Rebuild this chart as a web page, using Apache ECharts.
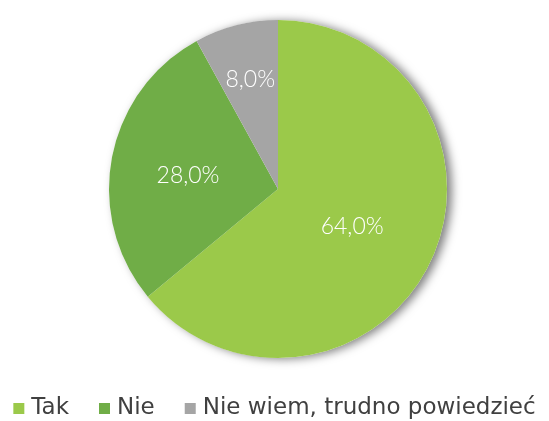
<!DOCTYPE html>
<html>
<head>
<meta charset="utf-8">
<script src="https://cdn.jsdelivr.net/npm/echarts@6/dist/echarts.min.js"></script>
<style>
html,body{margin:0;padding:0;background:#fff;}
#chart{width:549px;height:421px;}
</style>
</head>
<body>
<div id="chart"></div>
<script>
// Survey answers and their shares (percent)
const categories = ['Tak', 'Nie', 'Nie wiem, trudno powiedzieć'];
const shares = [64.0, 28.0, 8.0];
const colors = ['#9BC94A', '#70AD47', '#A5A5A5'];
// small nudges of the in-slice percentage labels
const labelOffsets = [[-5, 0], [-4, 3], [-6, -25]];

const total = shares.reduce((a, b) => a + b, 0);
const chart = echarts.init(document.getElementById('chart'), null, {renderer: 'canvas'});

const data = categories.map((name, i) => ({
  name: name,
  value: shares[i],
  itemStyle: {color: colors[i]},
  label: {offset: labelOffsets[i]}
}));

const pieCenter = [278, 189];
const pieRadius = 169;

chart.setOption({
  animation: false,
  legend: {
    bottom: -4,
    left: 'center',
    itemWidth: 11,
    itemHeight: 11,
    itemGap: 30,
    icon: 'rect',
    textStyle: {fontFamily: 'DejaVu Sans', fontSize: 23, color: '#404040', padding: [0, 0, 0, 2]},
    data: categories
  },
  series: [{
    // soft drop shadow under the whole disc
    type: 'pie',
    center: pieCenter,
    radius: [0, pieRadius],
    silent: true,
    data: [{value: total, name: '_shadow', itemStyle: {color: '#fff'}}],
    itemStyle: {
      shadowBlur: 10,
      shadowColor: 'rgba(0,0,0,0.5)',
      shadowOffsetX: 5,
      shadowOffsetY: 1
    },
    label: {show: false},
    labelLine: {show: false},
    emphasis: {disabled: true}
  }, {
    type: 'pie',
    center: pieCenter,
    radius: [0, pieRadius],
    startAngle: 90,
    clockwise: true,
    data: data,
    label: {
      show: true,
      position: 'inside',
      color: '#fff',
      fontFamily: 'Lato',
      fontWeight: 300,
      fontSize: 23,
      formatter: p => p.value.toFixed(1).replace('.', ',') + '%'
    },
    labelLine: {show: false},
    emphasis: {disabled: true}
  }]
});
</script>
</body>
</html>
